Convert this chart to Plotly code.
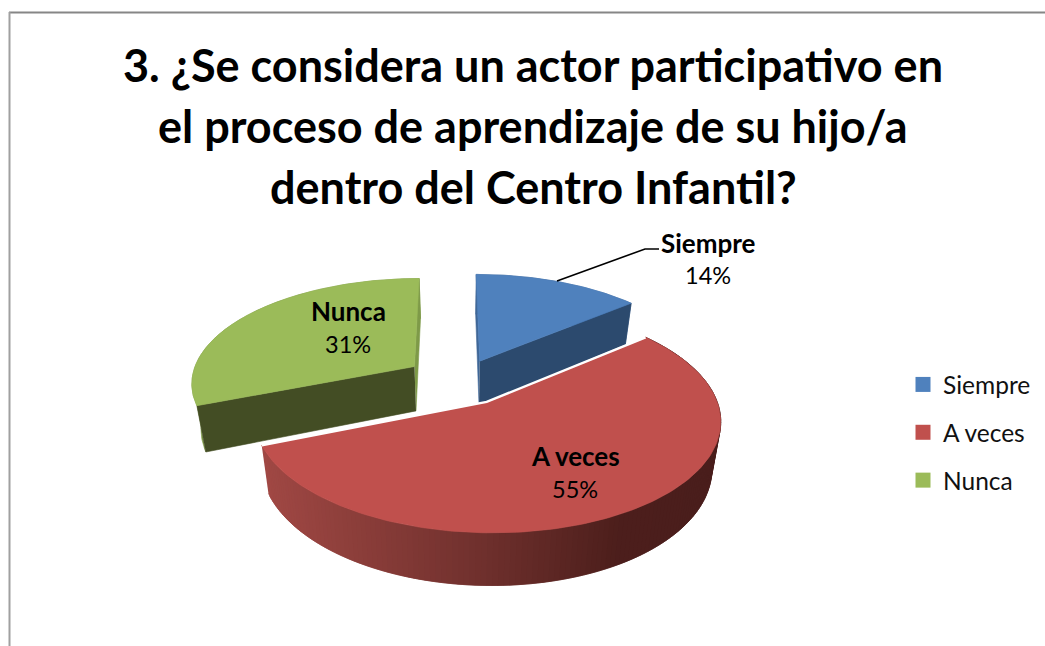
import numpy as np
import plotly.graph_objects as go

categories = ["Siempre", "A veces", "Nunca"]
values = [14, 55, 31]
explode = [0.215, 0.225, 0.25]
top_colors = ["#4f81bd", "#c0504d", "#9bbb59"]
cut_colors = ["#2c4a6e", "#000000", "#434d24"]
rim_colors = ["#3f6797", "#000000", "#7e9a48"]
label_pos = [(708, 243, 275), (575, 456, 489), (348, 311, 344)]
title_lines = ["3. ¿Se considera un actor participativo en",
               "el proceso de aprendizaje de su hijo/a",
               "dentro del Centro Infantil?"]
title_y = [65, 126, 187]


def project(X, Y):
    w = 1 + 0.147 * Y
    return (460 + 224 * X + 66.4 * Y) / w, (381 - 48.9 * Y) / w


def lower(sx, sy):
    return 460 + 0.966 * (sx - 460), 1.05 * sy + 26


def lerp_red(x):
    xs = [265, 483, 617, 720]
    return "rgb(%d,%d,%d)" % (np.interp(x, xs, [160, 111, 77, 74]),
                              np.interp(x, xs, [72, 48, 31, 30]),
                              np.interp(x, xs, [68, 45, 28, 28]))


fig = go.Figure()


def poly(xs, ys, color):
    fig.add_trace(go.Scatter(x=list(xs), y=list(ys), mode="lines", fill="toself",
                             fillcolor=color, line=dict(width=0.6, color=color),
                             showlegend=False, hoverinfo="skip"))


total = sum(values)
edges = np.cumsum([0] + values) / total * 360
slices = []
for i, v in enumerate(values):
    a0, a1 = edges[i], edges[i + 1]
    mid = np.radians((a0 + a1) / 2)
    ox, oy = explode[i] * np.sin(mid), explode[i] * np.cos(mid)
    t = np.radians(np.linspace(a0, a1, 160))
    ax, ay = project(np.sin(t) + ox, np.cos(t) + oy)
    cx, cy = project(ox, oy)
    slices.append(dict(t=t, ax=ax, ay=ay, cx=cx, cy=cy))


def wall_quad(p, q, color):
    bp, bq = lower(*p), lower(*q)
    poly([p[0], q[0], bq[0], bp[0]], [p[1], q[1], bq[1], bp[1]], color)


def draw_flat(i):
    s = slices[i]
    ax, ay, cx, cy = s["ax"], s["ay"], s["cx"], s["cy"]
    # wall along the starting and ending cuts, then the rim, then the top face
    if i == 0:
        wall_quad((cx, cy), (ax[0], ay[0]), rim_colors[i])
    else:
        wall_quad((cx, cy), (ax[-1], ay[-1]), rim_colors[i])
    bx, by = lower(ax, ay)
    poly(np.r_[ax, bx[::-1]], np.r_[ay, by[::-1]], rim_colors[i])
    if i == 0:
        wall_quad((cx, cy), (ax[-1], ay[-1]), cut_colors[i])
    else:
        wall_quad((cx, cy), (ax[0], ay[0]), cut_colors[i])
    poly(np.r_[cx, ax, cx], np.r_[cy, ay, cy], top_colors[i])


draw_flat(2)
draw_flat(0)

# the large slice: shaded outer wall in narrow bands, then its top face
s = slices[1]
ax, ay, cx, cy = s["ax"], s["ay"], s["cx"], s["cy"]
bx, by = lower(ax, ay)
for k in range(len(ax) - 1, 0, -1):
    j = max(k - 2, 0)
    poly([ax[k], ax[j], bx[j], bx[k]], [ay[k], ay[j], by[j], by[k]], lerp_red(ax[k]))
poly(np.r_[cx, ax, cx], np.r_[cy, ay, cy], top_colors[1])
fig.add_trace(go.Scatter(x=[ax[0], cx, ax[-1]], y=[ay[0], cy, ay[-1]], mode="lines",
                         line=dict(color="white", width=2.5), showlegend=False, hoverinfo="skip"))

# leader line of the first label
fig.add_trace(go.Scatter(x=[557, 645, 659], y=[281, 249, 249], mode="lines",
                         line=dict(color="black", width=1.6), showlegend=False, hoverinfo="skip"))

# legend entries
for name, color in zip(categories, top_colors):
    fig.add_trace(go.Scatter(x=[None], y=[None], mode="markers", name=name, legendgroup=name,
                             marker=dict(symbol="square", size=15, color=color)))

LABEL_FONT = "Lato, Carlito, Calibri, sans-serif"
annotations = []
for line, y in zip(title_lines, title_y):
    annotations.append(dict(x=533, y=y, text="<b>%s</b>" % line, showarrow=False,
                            font=dict(family=LABEL_FONT, size=45, color="black")))
for name, v, (x, y1, y2) in zip(categories, values, label_pos):
    annotations.append(dict(x=x, y=y1, text="<b>%s</b>" % name, showarrow=False,
                            font=dict(family=LABEL_FONT, size=26, color="black")))
    annotations.append(dict(x=x, y=y2, text="%d%%" % round(100 * v / total), showarrow=False,
                            font=dict(family=LABEL_FONT, size=23.5, color="black")))

fig.update_layout(
    width=1045, height=646, margin=dict(l=0, r=0, t=0, b=0),
    paper_bgcolor="white", plot_bgcolor="white",
    xaxis=dict(range=[0, 1045], visible=False, fixedrange=True),
    yaxis=dict(range=[646, 0], visible=False, fixedrange=True),
    legend=dict(x=903 / 1045, y=1 - 362 / 646, xanchor="left", yanchor="top",
                font=dict(family=LABEL_FONT, size=24.5, color="#111111"),
                tracegroupgap=13, bgcolor="rgba(0,0,0,0)"),
    annotations=annotations,
    shapes=[
        dict(type="line", x0=9, x1=1045, y0=12.5, y1=12.5, line=dict(color="#868686", width=2)),
        dict(type="line", x0=9.5, x1=9.5, y0=12, y1=646, line=dict(color="#a0a0a0", width=2)),
    ],
)

fig.write_html("out.html", config=dict(displayModeBar=False),
               post_script="document.body.style.margin='0';document.body.style.overflow='hidden';")
